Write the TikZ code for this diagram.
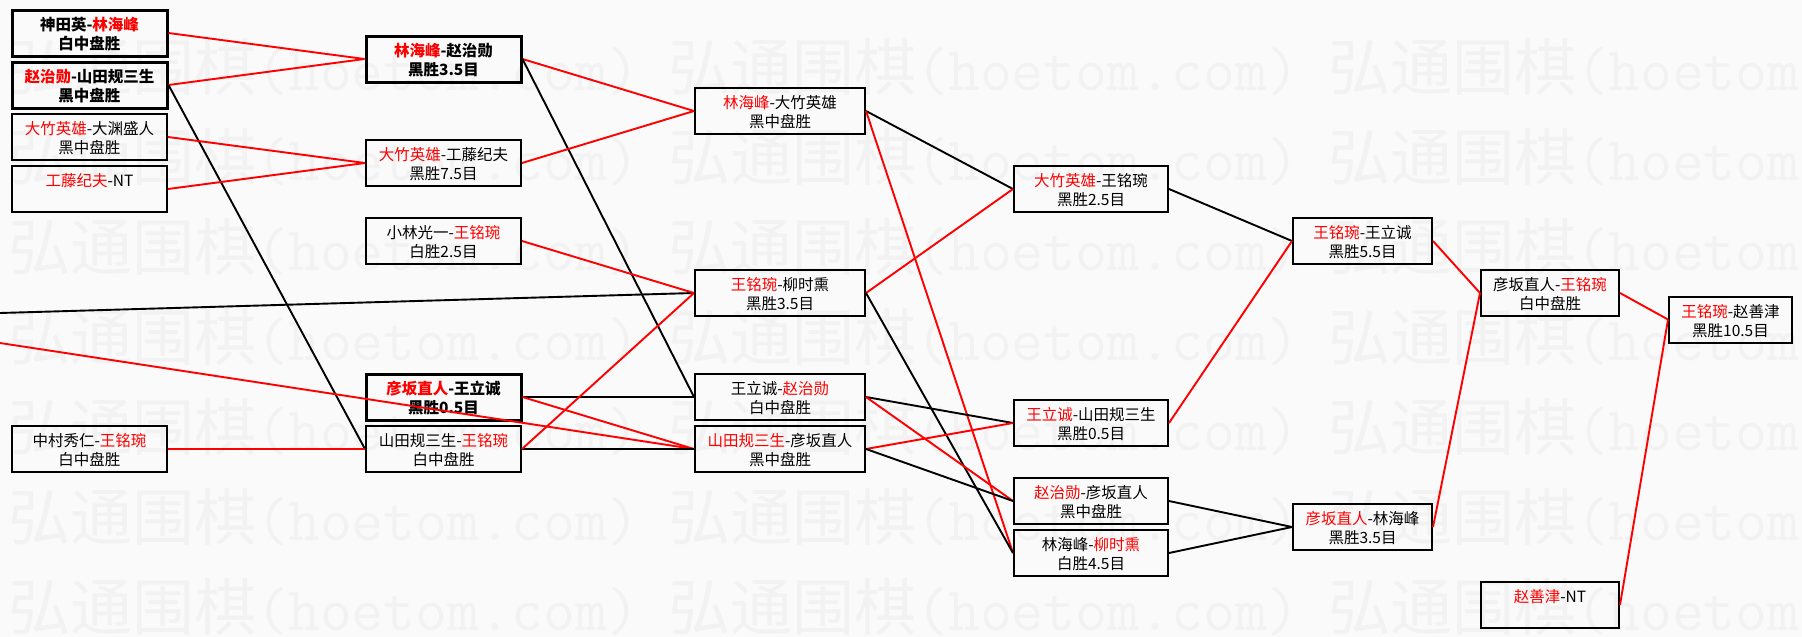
\documentclass[tikz,border=0pt]{standalone}
\usepackage{fontspec}
\setmainfont{Noto Sans CJK SC}
\definecolor{bgc}{RGB}{250,250,250}
\definecolor{wmc}{RGB}{242,242,242}
\newcommand\bxl[1]{\rule[-2.3pt]{0pt}{19pt}#1}
\newcommand\rd[1]{\textcolor{red}{#1}}
\newcommand\two[2]{\bxl{#1}\\\bxl{#2}}
\tikzset{
  box/.style={draw=black, line width=2pt, inner sep=0pt, align=center,
    minimum height=46pt, font=\fontsize{15.5}{19}\selectfont},
  thickbox/.style={box, line width=3pt, font=\fontsize{15.5}{19}\selectfont\bfseries},
  wa/.style={text width=155pt},
  wb/.style={text width=170pt},
  wc/.style={text width=154pt},
  wd/.style={text width=139pt},
  we/.style={text width=138pt},
  wf/.style={text width=123pt},
  win/.style={draw=red, line width=1.9pt},
  lose/.style={draw=black, line width=1.9pt},
  wm/.style={text=wmc, inner sep=0pt, anchor=west, font=\fontsize{62}{62}\selectfont},
}
\begin{document}
\begin{tikzpicture}[x=1pt,y=-1pt]
\useasboundingbox (0,0) rectangle (1802,637);
\fill[bgc] (0,0) rectangle (1802,637);
\begin{scope}
\clip (0,0) rectangle (1802,637);
\foreach \r in {0,...,6}{
  \foreach \c in {0,1,2}{
    \node[wm] (wm-\r-\c) at ({8+660*\c},{67.5+90*\r}) {弘通围棋{\ttfamily(hoetom.com)}};
  }}
\end{scope}

% column 1
\node[thickbox,wa] (c1a) at (89.5,33) {\two{神田英-\rd{林海峰}}{白中盘胜}};
\node[thickbox,wa] (c1b) at (89.5,85) {\two{\rd{赵治勋}-山田规三生}{黑中盘胜}};
\node[box,wa] (c1c) at (89.5,137) {\two{\rd{大竹英雄}-大渊盛人}{黑中盘胜}};
\node[box,wa] (c1d) at (89.5,189) {\two{\rd{工藤纪夫}-NT}{}};
\node[box,wa] (c1e) at (89.5,449) {\two{中村秀仁-\rd{王铭琬}}{白中盘胜}};
% column 2
\node[thickbox,wa] (c2a) at (443.5,59) {\two{\rd{林海峰}-赵治勋}{黑胜3.5目}};
\node[box,wa] (c2b) at (443.5,163) {\two{\rd{大竹英雄}-工藤纪夫}{黑胜7.5目}};
\node[box,wa] (c2c) at (443.5,241) {\two{小林光一-\rd{王铭琬}}{白胜2.5目}};
\node[thickbox,wa] (c2d) at (443.5,397) {\two{\rd{彦坂直人}-王立诚}{黑胜0.5目}};
\node[box,wa] (c2e) at (443.5,449) {\two{山田规三生-\rd{王铭琬}}{白中盘胜}};
% column 3
\node[box,wb] (c3a) at (780,111) {\two{\rd{林海峰}-大竹英雄}{黑中盘胜}};
\node[box,wb] (c3b) at (780,293) {\two{\rd{王铭琬}-柳时熏}{黑胜3.5目}};
\node[box,wb] (c3c) at (780,397) {\two{王立诚-\rd{赵治勋}}{白中盘胜}};
\node[box,wb] (c3d) at (780,449) {\two{\rd{山田规三生}-彦坂直人}{黑中盘胜}};
% column 4
\node[box,wc] (c4a) at (1091,189) {\two{\rd{大竹英雄}-王铭琬}{黑胜2.5目}};
\node[box,wc] (c4b) at (1091,423) {\two{\rd{王立诚}-山田规三生}{黑胜0.5目}};
\node[box,wc] (c4c) at (1091,501) {\two{\rd{赵治勋}-彦坂直人}{黑中盘胜}};
\node[box,wc] (c4d) at (1091,553) {\two{林海峰-\rd{柳时熏}}{白胜4.5目}};
% column 5
\node[box,wd] (c5a) at (1362.5,241) {\two{\rd{王铭琬}-王立诚}{黑胜5.5目}};
\node[box,wd] (c5b) at (1362.5,527) {\two{\rd{彦坂直人}-林海峰}{黑胜3.5目}};
% column 6
\node[box,we] (c6a) at (1550,293) {\two{彦坂直人-\rd{王铭琬}}{白中盘胜}};
\node[box,we] (c6b) at (1550,605) {\two{\rd{赵善津}-NT}{}};
% column 7
\node[box,wf] (c7) at (1730.5,319.5) {\two{\rd{王铭琬}-赵善津}{黑胜10.5目}};

\coordinate (lA) at (0,313);
\coordinate (lB) at (0,343);

% connectors
\draw[win] (c1a.east) -- (c2a.west);
\draw[win] (c1b.east) -- (c2a.west);
\draw[lose] (c1b.east) -- (c2e.west);
\draw[win] (c1c.east) -- (c2b.west);
\draw[win] (c1d.east) -- (c2b.west);
\draw[win] (c1e.east) -- (c2e.west);
\draw[lose] (lA) -- (c3b.west);
\draw[win] (lB) -- (c3d.west);
\draw[win] (c2a.east) -- (c3a.west);
\draw[lose] (c2a.east) -- (c3c.west);
\draw[win] (c2b.east) -- (c3a.west);
\draw[win] (c2c.east) -- (c3b.west);
\draw[lose] (c2d.east) -- (c3c.west);
\draw[win] (c2d.east) -- (c3d.west);
\draw[lose] (c2e.east) -- (c3d.west);
\draw[win] (c2e.east) -- (c3b.west);
\draw[lose] (c3a.east) -- (c4a.west);
\draw[win] (c3a.east) -- (c4d.west);
\draw[win] (c3b.east) -- (c4a.west);
\draw[lose] (c3b.east) -- (c4d.west);
\draw[lose] (c3c.east) -- (c4b.west);
\draw[win] (c3c.east) -- (c4c.west);
\draw[win] (c3d.east) -- (c4b.west);
\draw[lose] (c3d.east) -- (c4c.west);
\draw[lose] (c4a.east) -- (c5a.west);
\draw[win] (c4b.east) -- (c5a.west);
\draw[lose] (c4c.east) -- (c5b.west);
\draw[lose] (c4d.east) -- (c5b.west);
\draw[win] (c5a.east) -- (c6a.west);
\draw[win] (c5b.east) -- (c6a.west);
\draw[win] (c6a.east) -- (c7.west);
\draw[win] (c6b.east) -- (c7.west);
\end{tikzpicture}
\end{document}
